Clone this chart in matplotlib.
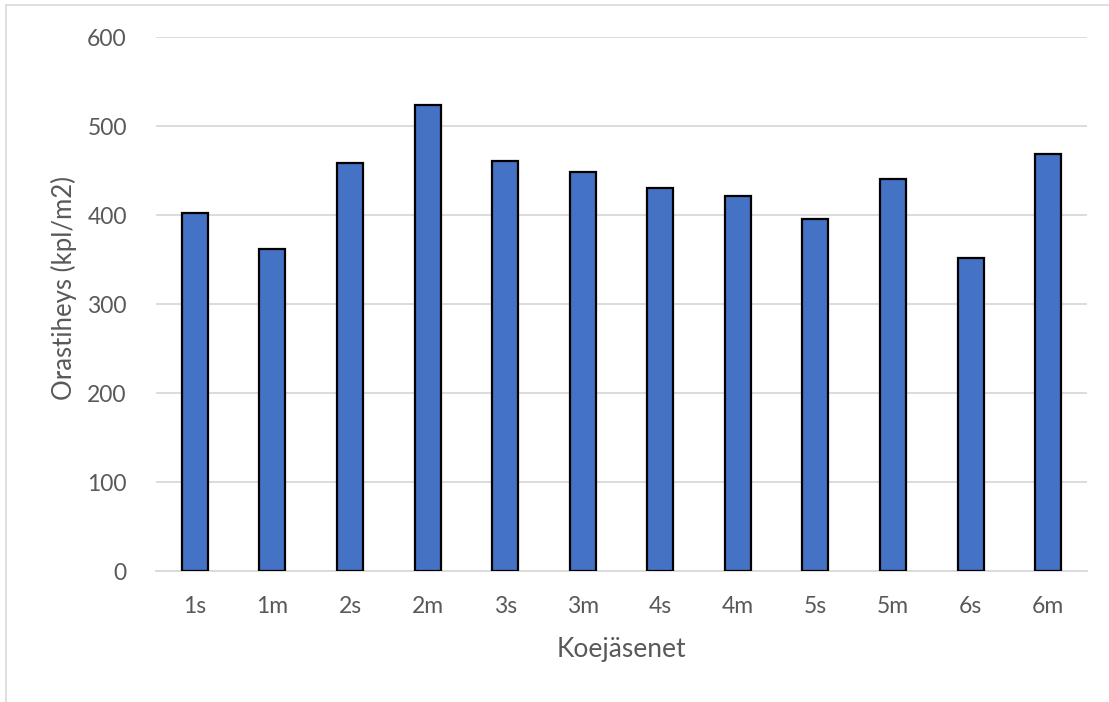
import matplotlib
matplotlib.use("Agg")
import matplotlib.pyplot as plt
from matplotlib.lines import Line2D

categories = ["1s", "1m", "2s", "2m", "3s", "3m", "4s", "4m", "5s", "5m", "6s", "6m"]
values = [402, 362, 459, 524, 461, 449, 431, 422, 396, 441, 352, 469]
yticks = [0, 100, 200, 300, 400, 500, 600]

W, H = 1109, 702
fig = plt.figure(figsize=(W / 100, H / 100), dpi=100)
fig.patch.set_facecolor("white")

font = "Lato"
text_color = "#595959"

ax_left, ax_right = 156, 1087
ax_top, ax_bottom = 37.2, 571.4
ax = fig.add_axes([ax_left / W, (H - ax_bottom) / H, (ax_right - ax_left) / W, (ax_bottom - ax_top) / H])
x = range(len(categories))
ax.bar(x, values, width=0.335, color="#4472C4", edgecolor="black", linewidth=1.6, zorder=3)

ax.set_ylim(0, 600)
ax.set_xlim(-0.5, len(categories) - 0.5)
ax.set_yticks(yticks)
ax.set_yticklabels([str(t) for t in yticks], fontsize=16.5, color=text_color, family=font)
ax.set_xticks(list(x))
ax.set_xticklabels(categories, fontsize=16.5, color=text_color, family=font)
ax.tick_params(axis="y", length=0, pad=21)
ax.tick_params(axis="x", length=0, pad=18)

ax.grid(axis="y", color="#d9d9d9", linewidth=1.3, zorder=0)
for s in ["top", "right", "left"]:
    ax.spines[s].set_visible(False)
ax.spines["bottom"].set_color("#d9d9d9")
ax.spines["bottom"].set_linewidth(1.3)

ax.set_xlabel("Koejäsenet", fontsize=19, color=text_color, family=font, labelpad=14)
ax.set_ylabel("Orastiheys (kpl/m2)", fontsize=18.5, color=text_color, family=font,
              va="center", ha="center")
# place the y label centre in pixel terms
ax.yaxis.set_label_coords((64 - ax_left) / (ax_right - ax_left),
                          (ax_bottom - 287.5) / (ax_bottom - ax_top))

# outer chart frame (top and left edges)
fig.add_artist(Line2D([6 / W, 1.0], [1 - 4.5 / H, 1 - 4.5 / H], color="#d9d9d9", linewidth=1.2, transform=fig.transFigure))
fig.add_artist(Line2D([6 / W, 6 / W], [0, 1 - 4.5 / H], color="#d9d9d9", linewidth=1.2, transform=fig.transFigure))

fig.savefig("out.png", dpi=100)
